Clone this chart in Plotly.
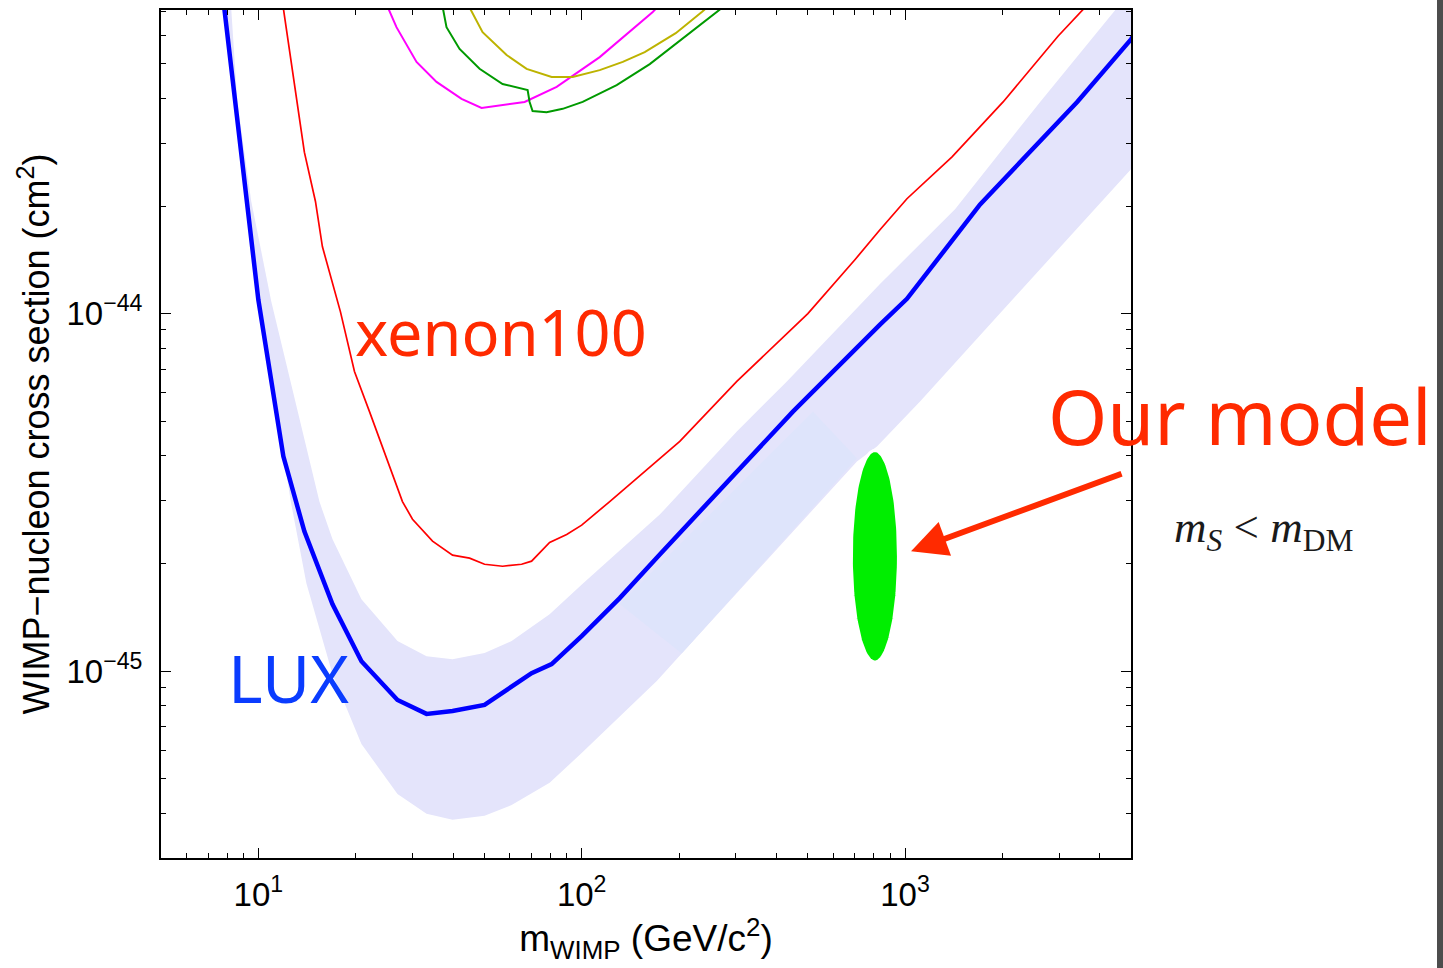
import numpy as np
import plotly.graph_objects as go

# ---------------- data (mass in GeV/c^2, cross section in cm^2) ----------------
lux_mass = [7.8, 10.0, 11.95, 13.88, 16.95, 20.84, 26.94, 33.13, 39.87, 50.08, 70.0, 80.75,
            100, 131.1, 174.4, 297.6, 450.1, 836.8, 1014, 1707, 3408, 5007, 5300]
lux_sigma = [7.5e-44, 1.094e-44, 3.99e-45, 2.46e-45, 1.54e-45, 1.066e-45, 8.30e-46, 7.59e-46,
             7.73e-46, 8.04e-46, 9.87e-46, 1.046e-45, 1.253e-45, 1.60e-45, 2.12e-45, 3.55e-45,
             5.32e-45, 9.32e-45, 1.10e-44, 2.02e-44, 3.91e-44, 5.86e-44, 6.4e-44]

band_hi_mass = [8.1, 8.25, 8.61, 9.51, 10.97, 15.45, 16.95, 20.84, 26.94, 33.13, 39.87, 50.08,
                60.73, 79.6, 100.7, 174.4, 301.9, 431.1, 836.8, 1428, 2618, 4470, 6000]
band_hi_sigma = [8e-44, 7.07e-44, 3.91e-44, 2.06e-44, 1.08e-44, 2.98e-45, 2.34e-45, 1.589e-45,
                 1.213e-45, 1.101e-45, 1.08e-45, 1.123e-45, 1.213e-45, 1.443e-45, 1.755e-45,
                 2.74e-45, 4.68e-45, 6.46e-45, 1.21e-44, 1.96e-44, 3.91e-44, 7.07e-44, 1.0e-43]
band_lo_mass = [7.75, 9.9, 11.95, 12.6, 14.08, 16.95, 20.84, 26.94, 33.13, 39.87, 50.08, 60.73,
                79.6, 100, 170.7, 203.9, 710.1, 819.0, 1113, 5007, 6000]
band_lo_sigma = [8e-44, 1.1e-44, 4.05e-45, 2.98e-45, 1.76e-45, 9.81e-46, 6.25e-46, 4.53e-46,
                 3.99e-46, 3.84e-46, 3.94e-46, 4.22e-46, 4.87e-46, 5.90e-46, 9.38e-46, 1.12e-45,
                 3.86e-45, 4.25e-45, 5.68e-45, 2.54e-44, 3.05e-44]

patch_mass = [131.1, 519.0, 710.1, 203.9]
patch_sigma = [1.54e-45, 5.32e-45, 3.94e-45, 1.12e-45]

xenon_mass = [11.87, 12.74, 13.88, 15.02, 15.78, 17.94, 19.83, 22.07, 25.81, 27.91, 29.98, 34.57,
              39.87, 45.01, 50.08, 56.94, 65.20, 70.0, 79.6, 89.87, 100, 122.1, 201.1, 301.9,
              500.7, 700, 836.8, 1014, 1398, 2011, 2977, 3740]
xenon_sigma = [7.45e-44, 4.84e-44, 2.83e-44, 2.06e-44, 1.54e-44, 1.013e-44, 6.89e-45, 5.32e-45,
               3.62e-45, 2.98e-45, 2.66e-45, 2.31e-45, 2.11e-45, 2.07e-45, 1.99e-45, 1.965e-45,
               1.99e-45, 2.03e-45, 2.29e-45, 2.41e-45, 2.56e-45, 2.98e-45, 4.39e-45, 6.46e-45,
               1.0e-44, 1.415e-44, 1.716e-44, 2.096e-44, 2.745e-44, 3.91e-44, 5.98e-44, 7.45e-44]

magenta_mass = [24.73, 26.74, 30.85, 35.57, 42.51, 49.02, 66.61, 83.7, 113.7, 165.9, 174]
magenta_sigma = [7.45e-44, 6.33e-44, 5.06e-44, 4.45e-44, 3.99e-44, 3.76e-44, 3.91e-44, 4.31e-44,
                 5.22e-44, 6.98e-44, 7.3e-44]

green_mass = [36.9, 38.19, 41.91, 48.33, 56.94, 68.06, 69.02, 70.5, 77.9, 87.35, 100.7, 128.3,
              162.4, 261.8, 281]
green_sigma = [7.45e-44, 6.33e-44, 5.50e-44, 4.84e-44, 4.39e-44, 4.22e-44, 3.91e-44, 3.69e-44,
               3.66e-44, 3.74e-44, 3.91e-44, 4.36e-44, 4.99e-44, 6.98e-44, 7.34e-44]

olive_mass = [44.06, 49.38, 58.6, 67.57, 80.75, 93.78, 113.7, 134, 156.7, 195.4, 235.3, 249]
olive_sigma = [7.45e-44, 6.13e-44, 5.29e-44, 4.84e-44, 4.59e-44, 4.59e-44, 4.80e-44, 5.06e-44,
               5.39e-44, 6.09e-44, 6.98e-44, 7.3e-44]

# "Our model" region (ellipse in log-log space)
model_center_mass = 807.0
model_center_sigma = 2.095e-45
model_half_width_dec = 0.0728
model_half_height_dec = 0.296

arrow_tip_mass = 1044.0
arrow_tip_sigma = 2.164e-45

x_tickvals = [10, 100, 1000]
x_ticktext = ["10<sup>1</sup>", "10<sup>2</sup>", "10<sup>3</sup>"]
y_tickvals = [1e-45, 1e-44]
y_ticktext = ["10<sup>\u221245</sup>", "10<sup>\u221244</sup>"]

# ---------------- figure ----------------
fig = go.Figure()

band_x = band_hi_mass + band_lo_mass[::-1]
band_y = band_hi_sigma + band_lo_sigma[::-1]
fig.add_trace(go.Scatter(x=band_x, y=band_y, mode="lines", fill="toself",
                         fillcolor="rgb(228,228,251)", line=dict(width=0),
                         hoverinfo="skip", showlegend=False))
fig.add_trace(go.Scatter(x=patch_mass + patch_mass[:1], y=patch_sigma + patch_sigma[:1],
                         mode="lines", fill="toself", fillcolor="rgb(222,228,251)",
                         line=dict(width=0), hoverinfo="skip", showlegend=False))

fig.add_trace(go.Scatter(x=magenta_mass, y=magenta_sigma, mode="lines",
                         line=dict(color="#ff00ff", width=2), showlegend=False))
fig.add_trace(go.Scatter(x=olive_mass, y=olive_sigma, mode="lines",
                         line=dict(color="#bdb300", width=2), showlegend=False))
fig.add_trace(go.Scatter(x=green_mass, y=green_sigma, mode="lines",
                         line=dict(color="#009a00", width=2), showlegend=False))
fig.add_trace(go.Scatter(x=xenon_mass, y=xenon_sigma, mode="lines",
                         line=dict(color="#ff0000", width=1.7), showlegend=False))
fig.add_trace(go.Scatter(x=lux_mass, y=lux_sigma, mode="lines",
                         line=dict(color="#0000ff", width=4.5), showlegend=False))

t = np.linspace(0, 2 * np.pi, 181)
ell_x = 10 ** (np.log10(model_center_mass) + model_half_width_dec * np.cos(t))
ell_y = 10 ** (np.log10(model_center_sigma) + model_half_height_dec * np.sin(t))
fig.add_trace(go.Scatter(x=ell_x, y=ell_y, mode="lines", fill="toself",
                         fillcolor="#00ee00", line=dict(color="white", width=3),
                         hoverinfo="skip", showlegend=False))

axis_common = dict(
    type="log", showgrid=False, zeroline=False,
    showline=True, linecolor="black", linewidth=2, mirror="allticks",
    ticks="inside", ticklen=10, tickwidth=1.2, tickcolor="black",
    tickfont=dict(family="Liberation Sans, Arial, sans-serif", size=33, color="black"),
    minor=dict(ticks="inside", ticklen=5, tickwidth=1, tickcolor="black", dtick="D1", showgrid=False),
)

fig.update_xaxes(**axis_common, range=[np.log10(5), np.log10(5000)],
                 tickmode="array", tickvals=x_tickvals, ticktext=x_ticktext,
                 ticklabelstandoff=6,
                 title=dict(text="m<sub>WIMP</sub> (GeV/c<sup>2</sup>)", standoff=0,
                            font=dict(family="Liberation Sans, Arial, sans-serif", size=37, color="black")))
fig.update_yaxes(**axis_common, range=[np.log10(3e-46), np.log10(7.07e-44)],
                 tickmode="array", tickvals=y_tickvals, ticktext=y_ticktext,
                 ticklabelstandoff=10,
                 title=dict(text="WIMP\u2212nucleon cross section (cm<sup>2</sup>)", standoff=6,
                            font=dict(family="Liberation Sans, Arial, sans-serif", size=36, color="black")))

hand_font = "Noto Sans, Lato, sans-serif"
annotations = [
    dict(x=0.3505, y=0.621, xref="paper", yref="paper", text="xenon100", showarrow=False,
         font=dict(family=hand_font, size=63, color="#ff2a00"), xanchor="center", yanchor="middle"),
    dict(x=0.131, y=0.213, xref="paper", yref="paper", text="LUX", showarrow=False,
         font=dict(family=hand_font, size=66, color="#0a3cff"), xanchor="center", yanchor="middle"),
    dict(x=1.1124, y=0.522, xref="paper", yref="paper", text="Our model", showarrow=False,
         font=dict(family=hand_font, size=76, color="#ff2a00"), xanchor="center", yanchor="middle"),
    dict(x=1.137, y=0.387, xref="paper", yref="paper",
         text="<i>m</i><sub><i>S</i></sub> &lt; <i>m</i><sub>DM</sub>", showarrow=False,
         font=dict(family="Liberation Serif, DejaVu Serif, serif", size=45, color="#1a1a1a"),
         xanchor="center", yanchor="middle"),
    dict(x=np.log10(arrow_tip_mass), y=np.log10(arrow_tip_sigma), xref="x", yref="y",
         ax=212, ay=-78, axref="pixel", ayref="pixel", text="", showarrow=True,
         arrowhead=2, arrowsize=1.2, arrowwidth=6, arrowcolor="#ff2a00"),
]

fig.update_layout(
    width=1443, height=968,
    margin=dict(l=161, r=312, t=8, b=110),
    paper_bgcolor="white", plot_bgcolor="white",
    annotations=annotations,
    shapes=[dict(type="rect", xref="paper", yref="paper",
                 x0=(1437 - 161) / 970, x1=(1445 - 161) / 970, y0=-0.14, y1=1.02,
                 fillcolor="#4d4d4d", line=dict(width=0), layer="above")],
)

fig.write_html("out.html")
